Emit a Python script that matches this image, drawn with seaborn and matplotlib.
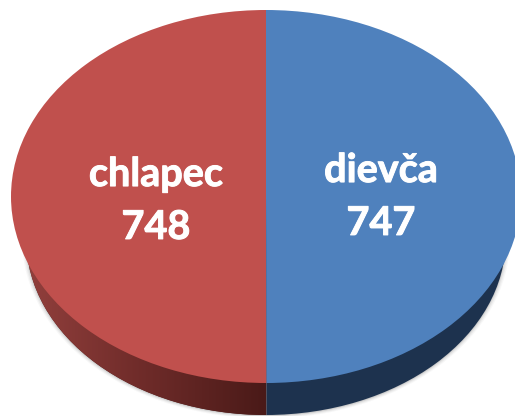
#! /usr/bin/env python3

import numpy as np
import seaborn as sns
import matplotlib
matplotlib.use('Agg')

import matplotlib.pyplot as plt
import matplotlib.patheffects as pe

labels = ['chlapec', 'dievča']
counts = [748, 747]
top_colors = ['#c0504d', '#4f81bd']
side_colors = ['#4a1a18', '#1d324e']

sns.set_theme(style='white')
plt.rcParams['font.family'] = ['Lato', 'DejaVu Sans']

# pixel geometry of the flattened pie, used to set the axes limits
width, height = 515, 416
cx, cy = 266, 196.5
rx, ry = 255, 186.5
depth = 32 / ry
# the wall's lower rim is a bit narrower than the top face
side_radius = 0.94
side_shift = 1 + depth - side_radius

fig = plt.figure(figsize=(width / 100, height / 100), dpi=100)
ax = fig.add_axes([0, 0, 1, 1])

# soft shadow under the wall
for grow, alpha in zip([0.016, 0.011, 0.006, 0.002], [0.04, 0.06, 0.08, 0.11]):
    ax.pie(counts, colors=['#404040'] * 2, startangle=90, center=(0, -side_shift - 0.003),
           radius=side_radius + grow, wedgeprops={'alpha': alpha, 'linewidth': 0})

# side wall, a smaller copy of the pie moved down
side, _ = ax.pie(counts, colors=side_colors, startangle=90, center=(0, -side_shift),
                 radius=side_radius, wedgeprops={'linewidth': 0})

# left half of the wall gets lighter towards the rim
wall_cmap = sns.blend_palette(['#96423f', '#702c2a', '#4a1a18'], as_cmap=True)
gradient = np.linspace(0, 1, 256).reshape(1, -1)
image = ax.imshow(gradient, cmap=wall_cmap, aspect='auto', extent=(-1, 0, -1 - depth, 0), zorder=1.5)
image.set_clip_path(side[0])

top, _ = ax.pie(counts, colors=top_colors, startangle=90, radius=1,
                wedgeprops={'linewidth': 0})
for wedge in top:
    wedge.set_zorder(2)

ax.set_aspect('auto')
ax.set_xlim(-cx / rx, (width - cx) / rx)
ax.set_ylim((cy - height) / ry, cy / ry)
ax.axis('off')

# a thin stroke brings Lato closer to the heavier look of the original letters
heavier = [pe.withStroke(linewidth=0.7, foreground='white')]
ax.text((156 - cx) / rx, (cy - 201) / ry, labels[0] + '\n' + str(counts[0]), color='white', fontsize=28.5,
        fontweight='bold', ha='center', va='center', linespacing=1.53, zorder=3, path_effects=heavier)
ax.text((381 - cx) / rx, (cy - 197) / ry, labels[1] + '\n' + str(counts[1]), color='white', fontsize=28.5,
        fontweight='bold', ha='center', va='center', linespacing=1.53, zorder=3, path_effects=heavier)

fig.savefig('out.png', dpi=100)
